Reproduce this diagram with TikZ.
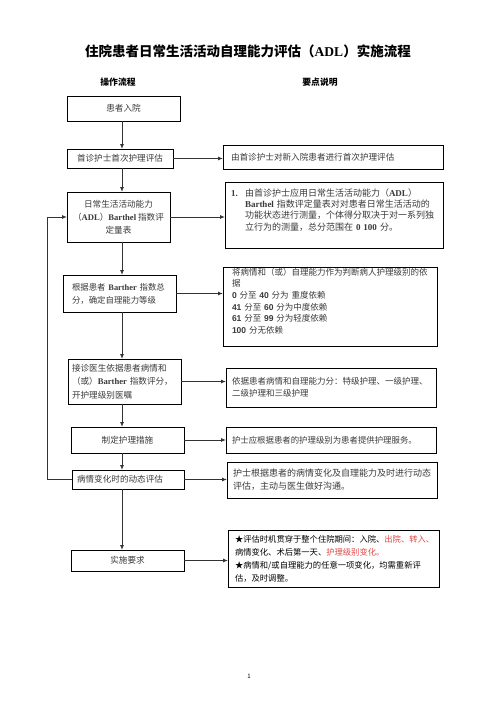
\documentclass[tikz,border=0pt]{standalone}
\usepackage{fontspec}
\setmainfont{Noto Sans CJK SC}
\newfontfamily\lser{Liberation Serif}
\newfontfamily\lsans{Liberation Sans}
\usetikzlibrary{arrows.meta}
\newcommand\LB[1]{{\lser\bfseries #1}}
\newcommand\SB[1]{{\lsans\bfseries #1}}
\newcommand\fz[2]{\fontsize{#1}{#2}\selectfont}
\definecolor{txt}{HTML}{3A3A3A}
\definecolor{arrc}{HTML}{333333}
\definecolor{redt}{HTML}{E04848}
\begin{document}
\begin{tikzpicture}[x=1pt,y=-1pt,
  box/.style={draw=black, line width=0.8pt, text=txt, inner sep=0pt, anchor=north west, outer sep=0pt},
  arr/.style={draw=arrc, line width=0.9pt, -{Latex[length=5pt,width=4pt]}},
  head/.style={font=\fz{8.8}{10}\bfseries, text=black}
]
\useasboundingbox (0,0) rectangle (496,702);
\fill[white] (0,0) rectangle (496,702);

% title
\node[font=\fz{13.5}{16}\bfseries, text=black] (title) at (248,51) {住院患者日常生活活动自理能力评估（\LB{ADL}）实施流程};
\node[head] (h1) at (118,82) {操作流程};
\node[head] (h2) at (320,82) {要点说明};

% left column
\node[box, minimum width=113pt, minimum height=25pt, font=\fz{8.6}{11}] (n1) at (67,96) {患者入院};
\node[box, minimum width=106pt, minimum height=19pt, font=\fz{8.6}{11}] (n2) at (67,149) {首诊护士首次护理评估};
\node[box, minimum width=103pt, minimum height=50pt, align=center, font=\fz{8.6}{13}] (n3) at (67,192) {日常生活活动能力\\（\LB{ADL}）\LB{Barthel} 指数评\\定量表};
\node[box, minimum width=113pt, minimum height=37pt, text width=105pt, inner xsep=4pt, align=left, font=\fz{8.4}{13}] (n4) at (63,275) {\hspace*{5pt}根据患者 \LB{Barther} 指数总\\\hspace*{5pt}分，确定自理能力等级};
\node[box, minimum width=113pt, minimum height=45pt, text width=105pt, inner xsep=4pt, align=left, font=\fz{8.6}{13.5}] (n5) at (68,359) {接诊医生依据患者病情和\\（或）\LB{Barther} 指数评分，\\开护理级别医嘱};
\node[box, minimum width=113pt, minimum height=26pt, font=\fz{8.6}{11}] (n6) at (71,427) {制定护理措施};
\node[box, minimum width=112pt, minimum height=19pt, text width=102pt, inner xsep=5pt, align=left, font=\fz{8.6}{11}] (n7) at (72,470) {病情变化时的动态评估};
\node[box, minimum width=113pt, minimum height=21pt, font=\fz{8.6}{11}] (n8) at (71,550) {实施要求};

% right column
\node[box, minimum width=220pt, minimum height=24pt, text width=204pt, inner xsep=8pt, align=left, font=\fz{8.6}{11}] (r1) at (223,145) {由首诊护士对新入院患者进行首次护理评估};
\node[box, minimum width=218pt, minimum height=66pt, text width=206pt, inner xsep=6pt, align=left, font=\fz{9}{11.3}] (r2) at (225,182) {\makebox[14pt][l]{\LB{1.}}由首诊护士应用日常生活活动能力（\LB{ADL}）\\
\hspace*{14pt}\LB{Barthel} 指数评定量表对对患者日常生活活动的\\
\hspace*{14pt}功能状态进行测量，个体得分取决于对一系列独\\
\hspace*{14pt}立行为的测量，总分范围在 \LB{0 100} 分。\\ \mbox{}};
\node[box, minimum width=214pt, minimum height=79pt, text width=196pt, inner xsep=9pt, align=left, font=\fz{8.5}{11.6}] (r3) at (223,267) {将病情和（或）自理能力作为判断病人护理级别的依\\据\\
\SB{0} 分至 \SB{40} 分为 重度依赖\\
\SB{41} 分至 \SB{60} 分为中度依赖\\
\SB{61} 分至 \SB{99} 分为轻度依赖\\
\SB{100} 分无依赖\\ \mbox{}};
\node[box, minimum width=210pt, minimum height=39pt, text width=198pt, inner xsep=6pt, align=left, font=\fz{8.5}{12}] (r4) at (226,368) {依据患者病情和自理能力分：特级护理、一级护理、\\二级护理和三级护理};
\node[box, minimum width=210pt, minimum height=26pt, text width=198pt, inner xsep=6pt, align=left, font=\fz{8.4}{11}] (r5) at (226,427) {护士应根据患者的护理级别为患者提供护理服务。};
\node[box, minimum width=210pt, minimum height=36pt, text width=198pt, inner xsep=6pt, align=left, font=\fz{9}{13}] (r6) at (227,462) {护士根据患者的病情变化及自理能力及时进行动态\\评估，主动与医生做好沟通。};
\node[box, minimum width=211pt, minimum height=57pt, text width=197pt, inner xsep=7pt, align=left, text=black, font=\fz{8.3}{13}] (r7) at (228,530) {★评估时机贯穿于整个住院期间：入院、\textcolor{redt}{出院、转入、}\\
病情变化、术后第一天、\textcolor{redt}{护理级别变化。}\\
★病情和/或自理能力的任意一项变化，均需重新评\\
估，及时调整。};

% page number
\node[font=\fz{6}{7}, text=black] (pg) at (249,676) {1};

% vertical flow
\coordinate (ax) at (122,0);
\draw[arr] (n1.south -| ax) -- (n2.north -| ax);
\draw[arr] (n2.south -| ax) -- (n3.north -| ax);
\draw[arr] (n3.south -| ax) -- (n4.north -| ax);
\draw[arr] (n4.south -| ax) -- (n5.north -| ax);
\draw[arr] (n5.south -| ax) -- (n6.north -| ax);
\draw[arr] (n6.south -| ax) -- (n7.north -| ax);
\draw[arr] (n7.south -| ax) -- (n8.north -| ax);

% horizontal arrows
\draw[arr] (n2.east) -- (n2.east -| r1.west);
\draw[arr] (n3.east) -- (n3.east -| r2.west);
\draw[arr] (n4.east) -- (n4.east -| r3.west);
\draw[arr] (n5.east) -- (n5.east -| r4.west);
\draw[arr] (n6.east) -- (n6.east -| r5.west);
\draw[arr] (n7.east) -- (n7.east -| r6.west);
\draw[arr] (n8.east) -- (n8.east -| r7.west);

% feedback loop
\coordinate (fb) at (47,0);
\draw[arr] (n7.west) -- (n7.west -| fb) -- (n3.west -| fb) -- (n3.west);
\end{tikzpicture}
\end{document}
